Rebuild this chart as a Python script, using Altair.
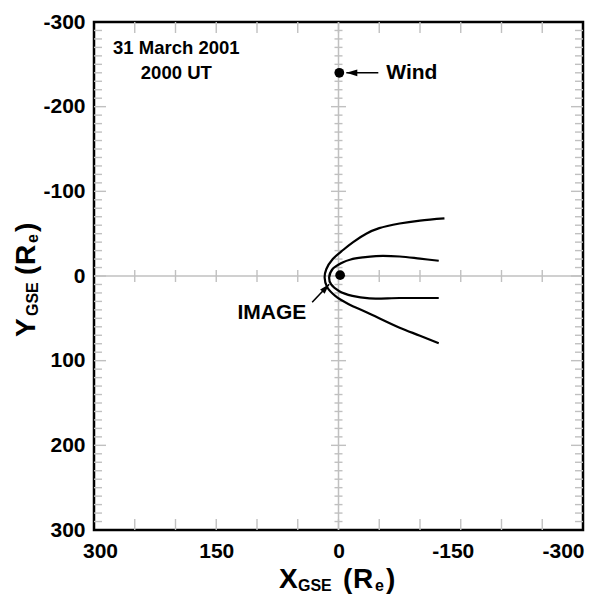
import altair as alt
import pandas as pd

# ---------------- data ----------------
bow_x = [-130, -100, -75, -50, -34, -18, -6, 7, 15, 17, 14, 4, -12, -35, -75, -100, -123]
bow_y = [-68, -65.5, -62, -56.5, -50, -40, -31, -20, -8, 2, 13, 23.5, 33, 43, 61, 70.5, 79.5]
mp_x = [-123, -100, -75, -46, -30, -15, -5, 7, 11.5, 9, -1, -17, -38, -75, -123]
mp_y = [-18, -20.5, -23, -23.5, -22, -19.5, -16, -8.5, 2, 10, 18, 23.5, 26.5, 26, 26]

sc_names = ["Wind", "IMAGE"]
sc_x = [-1, -2]
sc_y = [-240, -1]

x_tick_labels = [300, 150, 0, -150, -300]
y_tick_labels = [-300, -200, -100, 0, 100, 200, 300]

date_lines = ["31 March 2001", "2000 UT"]

W, H = 489, 508
FONT = "Liberation Sans"
GRAY = "#c0c0c0"

xs = alt.Scale(domain=[300, -300], nice=False, zero=False)
ys = alt.Scale(domain=[300, -300], nice=False, zero=False)

AX = alt.Axis(
    values=x_tick_labels, title=None, ticks=False, domain=False, grid=False,
    labelFont=FONT, labelFontSize=21, labelFontWeight="bold", labelColor="black",
    labelPadding=10, labelExpr="'' + datum.value", labelFlush=False,
    labelOffset=alt.ExprRef(
        expr="datum.value == 300 ? 6 : datum.value == -150 ? -8 : datum.value == -300 ? -20 : 0"
    ),
)
AY = alt.Axis(
    values=y_tick_labels, title=None, ticks=False, domain=False, grid=False,
    labelFont=FONT, labelFontSize=21, labelFontWeight="bold", labelColor="black",
    labelPadding=9, labelExpr="'' + datum.value", labelFlush=False,
)


def X(v):
    if isinstance(v, str):
        return alt.X(v, scale=xs, axis=AX)
    return alt.X(datum=v, scale=xs, axis=AX)


def Y(v):
    if isinstance(v, str):
        return alt.Y(v, scale=ys, axis=AY)
    return alt.Y(datum=v, scale=ys, axis=AY)


# ---------------- curves ----------------
curves = pd.DataFrame(
    {
        "x": bow_x + mp_x,
        "y": bow_y + mp_y,
        "curve": ["bow"] * len(bow_x) + ["mp"] * len(mp_x),
        "i": list(range(len(bow_x))) + list(range(len(mp_x))),
    }
)

curve_layer = alt.Chart(curves).mark_line(
    color="black", strokeWidth=2.2, interpolate="catmull-rom"
).encode(x=X("x:Q"), y=Y("y:Q"), detail="curve:N", order="i:Q")

# ---------------- frame ticks (inside) ----------------
side_minor = [v for v in range(-290, 300, 10) if v % 100 != 0]
side_major = [v for v in range(-200, 300, 100)]
tb_ticks = [v for v in range(-250, 300, 50)]

df_minor = pd.DataFrame({"v": side_minor})
df_major = pd.DataFrame({"v": side_major})
df_tb = pd.DataFrame({"v": tb_ticks})


def hrule(df, xval, off1, off2):
    return alt.Chart(df).mark_rule(color=GRAY, strokeWidth=1.4, xOffset=off1, x2Offset=off2).encode(
        x=X(xval), x2=alt.X2(datum=xval), y=Y("v:Q")
    )


def vrule(df, yval, off1, off2):
    return alt.Chart(df).mark_rule(color=GRAY, strokeWidth=1.4, yOffset=off1, y2Offset=off2).encode(
        y=Y(yval), y2=alt.Y2(datum=yval), x=X("v:Q")
    )


frame_ticks = [
    hrule(df_minor, 300, 0, 8),
    hrule(df_major, 300, 0, 12),
    hrule(df_minor, -300, 0, -8),
    hrule(df_major, -300, 0, -12),
    vrule(df_tb, -300, 0, 11),
    vrule(df_tb, 300, 0, -11),
]

# ---------------- crosshair through the origin ----------------
one = pd.DataFrame({"a": [0]})
cross_v = alt.Chart(one).mark_rule(color=GRAY, strokeWidth=1.5).encode(x=X(0))
cross_h = alt.Chart(one).mark_rule(color=GRAY, strokeWidth=1.5).encode(y=Y(0))
cross_ticks = [
    hrule(df_minor, 0, -4, 4),
    hrule(df_major, 0, -7.5, 7.5),
    vrule(df_tb, 0, -6, 6),
]

# ---------------- spacecraft ----------------
sc = pd.DataFrame({"name": sc_names, "x": sc_x, "y": sc_y})
dots = alt.Chart(sc).mark_circle(color="black", opacity=1, size=95).encode(x=X("x:Q"), y=Y("y:Q"))

arrow_path = "M0,0L2,-0.62L2,0.62Z"
wind = sc.iloc[[0]]
wind_lab = alt.Chart(wind).mark_text(
    font=FONT, fontSize=21, fontWeight="bold", align="left", baseline="middle", dx=47
).encode(x=X("x:Q"), y=Y("y:Q"), text="name:N")
wind_line = alt.Chart(wind).mark_rule(color="black", strokeWidth=1.6, xOffset=7, x2Offset=39).encode(
    x=X("x:Q"), x2="x:Q", y=Y("y:Q")
)
wind_head = alt.Chart(wind).mark_point(
    shape=arrow_path, filled=True, color="black", opacity=1, size=121, xOffset=7
).encode(x=X("x:Q"), y=Y("y:Q"))

img_tip_x, img_tip_y = 11.4, 9.8
img_tail_x, img_tail_y = 32.3, 31.0
img_line = alt.Chart(one).mark_rule(color="black", strokeWidth=1.6).encode(
    x=X(img_tail_x), y=Y(img_tail_y), x2=alt.X2(datum=img_tip_x), y2=alt.Y2(datum=img_tip_y)
)
img_head = alt.Chart(one).mark_point(
    shape=arrow_path, filled=True, color="black", opacity=1, size=100, angle=133
).encode(x=X(img_tip_x), y=Y(img_tip_y))
img_lab = alt.Chart(pd.DataFrame({"t": ["IMAGE"]})).mark_text(
    font=FONT, fontSize=21, fontWeight="bold", align="right", baseline="middle"
).encode(x=X(39.6), y=Y(43.8), text="t:N")

date_df = pd.DataFrame({"t": date_lines, "y": [-262, -233]})
date_txt = alt.Chart(date_df).mark_text(
    font=FONT, fontSize=18.5, fontWeight="bold", align="center", baseline="alphabetic"
).encode(x=X(199), y=Y("y:Q"), text="t:N")


# ---------------- axis titles with subscripts ----------------
def piece(txt, x, y, size, angle=0):
    return alt.Chart(pd.DataFrame({"t": [txt]})).mark_text(
        font=FONT, fontSize=size, fontWeight="bold", align="left", baseline="alphabetic", angle=angle
    ).encode(x=alt.value(x), y=alt.value(y), text="t:N")


BIG, SMALL = 28, 16
xt_base, xt_sub = 566, 569
x_title = [
    piece("X", 185, xt_base, BIG),
    piece("GSE", 204, xt_sub, SMALL),
    piece("(", 249, xt_base, BIG),
    piece("R", 259, xt_base, BIG),
    piece("e", 281, xt_sub, SMALL),
    piece(")", 292, xt_base, BIG),
]
yt_base, yt_sub = -59, -56.5
y_title = [
    piece("Y", yt_base, 315, BIG, 270),
    piece("GSE", yt_sub, 294, SMALL, 270),
    piece("(", yt_base, 253, BIG, 270),
    piece("R", yt_base, 243, BIG, 270),
    piece("e", yt_sub, 221, SMALL, 270),
    piece(")", yt_base, 210, BIG, 270),
]

chart = alt.layer(
    cross_v, cross_h, *cross_ticks, *frame_ticks,
    curve_layer, dots, wind_line, wind_head, wind_lab, img_line, img_head, img_lab, date_txt,
    *x_title, *y_title,
).properties(
    width=W, height=H,
    background="white",
    autosize=alt.AutoSizeParams(type="none"),
    padding={"left": 86, "top": 14, "right": 2, "bottom": 64},
).configure_view(stroke="black", strokeWidth=2.5)

chart.save("out.html", embed_options={"renderer": "svg", "actions": False})
